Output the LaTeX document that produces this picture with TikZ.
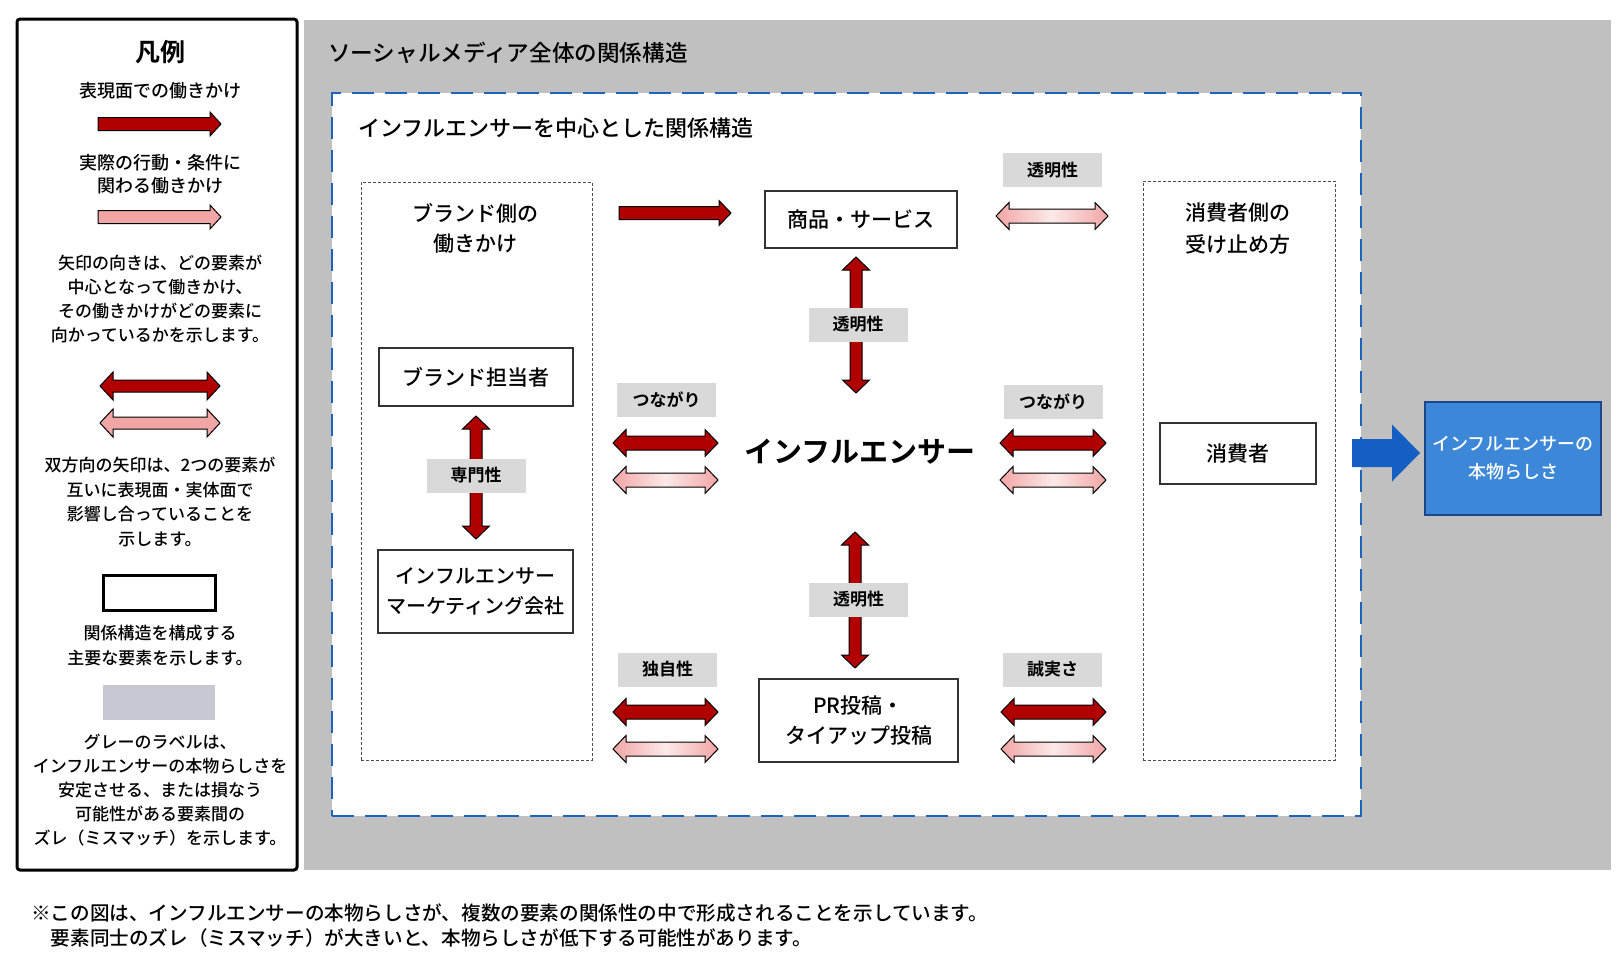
\documentclass[tikz,border=0pt]{standalone}
\usepackage{fontspec}
\setmainfont{Noto Sans CJK JP}[UprightFont=* Medium, BoldFont=* Bold]
\usepackage{tikz}
\usetikzlibrary{calc, positioning}
\usepackage{xcolor}

\definecolor{outerGray}{RGB}{192,192,192}
\definecolor{tagGray}{RGB}{217,217,217}
\definecolor{legGray}{RGB}{200,200,210}
\definecolor{arrRed}{RGB}{176,0,0}
\definecolor{arrPink}{RGB}{242,165,165}
\definecolor{zoneBlue}{RGB}{30,100,190}
\definecolor{flowBlue}{RGB}{20,95,195}
\definecolor{goalBlue}{RGB}{60,135,215}
\definecolor{goalEdge}{RGB}{30,70,140}

\newcommand{\fsTitle}{\fontsize{22.6}{28}\selectfont}
\newcommand{\fsBox}{\fontsize{21}{30}\selectfont}
\newcommand{\fsTag}{\fontsize{17}{20}\selectfont\bfseries}
\newcommand{\fsLeg}{\fontsize{17}{24}\selectfont}
\newcommand{\fsNote}{\fontsize{19.6}{25}\selectfont}

% ブロック矢印の寸法
\def\arrShaft{7pt}\def\arrHead{13.5pt}\def\arrTip{13pt}
\tikzset{
  arr shaft/.store in=\arrShaft,
  arr head/.store in=\arrHead,
  arr tip/.store in=\arrTip,
}
% 片方向
\newcommand{\singlearrow}[3][]{%
  \path[#1] ($(#2)!\arrShaft!90:(#3)$)
    -- ($(#3)!\arrTip!(#2)!\arrShaft!-90:(#2)$)
    -- ($(#3)!\arrTip!(#2)!\arrHead!-90:(#2)$)
    -- (#3)
    -- ($(#3)!\arrTip!(#2)!\arrHead!90:(#2)$)
    -- ($(#3)!\arrTip!(#2)!\arrShaft!90:(#2)$)
    -- ($(#2)!\arrShaft!-90:(#3)$) -- cycle;}
% 双方向
\newcommand{\doublearrow}[3][]{%
  \path[#1] (#2)
    -- ($(#2)!\arrTip!(#3)!\arrHead!90:(#3)$)
    -- ($(#2)!\arrTip!(#3)!\arrShaft!90:(#3)$)
    -- ($(#3)!\arrTip!(#2)!\arrShaft!-90:(#2)$)
    -- ($(#3)!\arrTip!(#2)!\arrHead!-90:(#2)$)
    -- (#3)
    -- ($(#3)!\arrTip!(#2)!\arrHead!90:(#2)$)
    -- ($(#3)!\arrTip!(#2)!\arrShaft!90:(#2)$)
    -- ($(#2)!\arrTip!(#3)!\arrShaft!-90:(#3)$)
    -- ($(#2)!\arrTip!(#3)!\arrHead!-90:(#3)$)
    -- cycle;}

\begin{document}
\begin{tikzpicture}[x=1pt, y=-1pt,
  elem/.style={draw=black!80, line width=1.3pt, fill=white, align=center, font=\fsBox, inner sep=0pt},
  tag/.style={fill=tagGray, font=\fsTag, minimum width=99pt, minimum height=34pt, inner sep=0pt},
  side/.style={draw=black!70, line width=0.8pt, dash pattern=on 3pt off 2pt, fill=white, inner sep=0pt},
  legtxt/.style={font=\fsLeg, align=center, inner sep=0pt},
  redarr/.style={fill=arrRed, draw=black, line width=1pt, line join=miter},
  pinkarr/.style={left color=arrPink, right color=arrPink, middle color=arrPink!25, draw=black, line width=1pt},
  bluearr/.style={fill=flowBlue, arr shaft=14pt, arr head=28.5pt, arr tip=28pt},
]

\useasboundingbox[fill=white] (0,0) rectangle (1624,969);

% 凡例
\node (legend) [draw=black, line width=3pt, rounded corners=3pt, minimum width=280pt, minimum height=851pt] at (157,444.5) {};
\node (lgTitle) [font=\fontsize{25}{28}\selectfont\bfseries, inner sep=0pt] at (160,52) {凡例};
\node (lgFace) [legtxt, font=\fontsize{18}{23}\selectfont] at (160,91) {表現面での働きかけ};
\node (lgReal) [legtxt, font=\fontsize{18}{23}\selectfont] at (160,174.5) {実際の行動・条件に\\関わる働きかけ};
\node (lgDir) [legtxt] at (160,299) {矢印の向きは、どの要素が\\中心となって働きかけ、\\その働きかけがどの要素に\\向かっているかを示します。};
\node (lgBoth) [legtxt, font=\fontsize{17}{24.5}\selectfont] at (160,502) {双方向の矢印は、2つの要素が\\互いに表現面・実体面で\\影響し合っていることを\\示します。};
\node (lgBox) [draw=black, line width=3pt, minimum width=112pt, minimum height=35pt] at (159,592.5) {};
\node (lgBoxTxt) [legtxt, font=\fontsize{17}{25}\selectfont] at (160,645.5) {関係構造を構成する\\主要な要素を示します。};
\node (lgTag) [fill=legGray, minimum width=112pt, minimum height=35pt] at (159,702.5) {};
\node (lgTagTxt) [legtxt] at (160,790) {グレーのラベルは、\\インフルエンサーの本物らしさを\\安定させる、または損なう\\可能性がある要素間の\\ズレ（ミスマッチ）を示します。};

\coordinate (lgA1) at (98,124);  \coordinate (lgB1) at (221,124);
\coordinate (lgA2) at (98,217);  \coordinate (lgB2) at (221,217);
\coordinate (lgA3) at (100,386); \coordinate (lgB3) at (220,386);
\coordinate (lgA4) at (100,423); \coordinate (lgB4) at (220,423);
\singlearrow[redarr, arr shaft=6.5pt, arr head=12pt, arr tip=11pt]{lgA1}{lgB1}
\singlearrow[redarr, fill=arrPink, arr shaft=6.5pt, arr head=12pt, arr tip=11pt]{lgA2}{lgB2}
\doublearrow[redarr, arr shaft=6pt, arr head=14pt]{lgA3}{lgB3}
\doublearrow[redarr, fill=arrPink, arr shaft=6pt, arr head=14pt]{lgA4}{lgB4}

% 全体の枠
\node (social) [fill=outerGray, minimum width=1307pt, minimum height=850pt, inner sep=0pt] at (957.5,445) {};
\node (socialTitle) [anchor=west, font=\fsTitle, inner sep=0pt] at (328,53) {ソーシャルメディア全体の関係構造};
\node (zone) [draw=zoneBlue, fill=white, line width=2.8pt, dash pattern=on 22pt off 11pt, minimum width=1029pt, minimum height=723pt] at (846.5,454.5) {};
\node (zoneTitle) [anchor=west, font=\fontsize{22}{28}\selectfont, inner sep=0pt] at (358,128) {インフルエンサーを中心とした関係構造};

% 両側の点線枠
\node (brandSide) [side, minimum width=231pt, minimum height=578pt] at (476.5,471) {};
\node (brandHead) [font=\fontsize{21}{30}\selectfont, align=center, inner sep=0pt] at (475,228) {ブランド側の\\働きかけ};
\node (consSide) [side, minimum width=192pt, minimum height=579pt] at (1239,470.5) {};
\node (consHead) [font=\fontsize{21}{32}\selectfont, align=center, inner sep=0pt] at (1238,229) {消費者側の\\受け止め方};

% 要素
\node (goods) [elem, minimum width=192pt, minimum height=57pt] at (861,219.5) {商品・サービス};
\node (brandMgr) [elem, minimum width=194pt, minimum height=58pt] at (476,377) {ブランド担当者};
\node (agency) [elem, font=\fontsize{20}{30}\selectfont, minimum width=195pt, minimum height=83pt] at (475.5,591.5) {インフルエンサー\\マーケティング会社};
\node (post) [elem, minimum width=199pt, minimum height=83pt] at (858.5,720.5) {PR投稿・\\タイアップ投稿};
\node (consumer) [elem, minimum width=156pt, minimum height=61pt] at (1238,453.5) {消費者};
\node (infl) [font=\fontsize{29}{32}\selectfont\bfseries, inner sep=0pt] at (860,452) {インフルエンサー};
\node (goal) [fill=goalBlue, draw=goalEdge, line width=1.3pt, text=white, align=center, font=\fontsize{18}{28}\selectfont, minimum width=176pt, minimum height=113pt, inner sep=0pt] at (1513,458.5) {インフルエンサーの\\本物らしさ};

% 矢印の端点
\coordinate (brandOut) at (619,213);  \coordinate (goodsIn) at (731,213);
\coordinate (goodsR) at (996,216);    \coordinate (consTop) at (1108,216);
\coordinate (goodsS) at (856,257);    \coordinate (inflN) at (856,393);
\coordinate (mgrS) at (476,416);      \coordinate (agencyN) at (476,539);
\coordinate (inflS) at (855,532);     \coordinate (postN) at (855,668);
\coordinate (linkLa) at (613,443);    \coordinate (linkLb) at (718,443);
\coordinate (linkLc) at (613,480);    \coordinate (linkLd) at (718,480);
\coordinate (linkRa) at (1000,443);   \coordinate (linkRb) at (1106,443);
\coordinate (linkRc) at (1000,480);   \coordinate (linkRd) at (1106,480);
\coordinate (origA) at (613,712);     \coordinate (origB) at (718,712);
\coordinate (origC) at (613,749);     \coordinate (origD) at (718,749);
\coordinate (sincA) at (1001,712);    \coordinate (sincB) at (1106,712);
\coordinate (sincC) at (1001,749);    \coordinate (sincD) at (1106,749);
\coordinate (consE) at (1352,453);    \coordinate (goalW) at (1420,453);

\singlearrow[redarr, arr shaft=6.5pt, arr head=12.5pt, arr tip=12pt]{brandOut}{goodsIn}
\doublearrow[pinkarr]{goodsR}{consTop}
\doublearrow[redarr, arr shaft=6pt]{goodsS}{inflN}
\doublearrow[redarr, arr shaft=6pt]{mgrS}{agencyN}
\doublearrow[redarr, arr shaft=6pt]{inflS}{postN}
\doublearrow[redarr]{linkLa}{linkLb}
\doublearrow[pinkarr]{linkLc}{linkLd}
\doublearrow[redarr]{linkRa}{linkRb}
\doublearrow[pinkarr]{linkRc}{linkRd}
\doublearrow[redarr]{origA}{origB}
\doublearrow[pinkarr]{origC}{origD}
\doublearrow[redarr]{sincA}{sincB}
\doublearrow[pinkarr]{sincC}{sincD}
\singlearrow[bluearr]{consE}{goalW}

% ラベル
\node (tagGoodsInfl) [tag] at (858,324.5) {透明性};
\node (tagGoodsCons) [tag] at (1052.5,170) {透明性};
\node (tagExpert) [tag] at (476,475.5) {専門性};
\node (tagLinkL) [tag] at (666.5,399.5) {つながり};
\node (tagLinkR) [tag] at (1053,401.5) {つながり};
\node (tagPost) [tag] at (858.5,599.5) {透明性};
\node (tagOrig) [tag] at (667.5,669.5) {独自性};
\node (tagSinc) [tag] at (1052.5,669.5) {誠実さ};

% 注記
\node (note) [anchor=west, align=left, font=\fsNote, inner sep=0pt] at (31,925.5) {※この図は、インフルエンサーの本物らしさが、複数の要素の関係性の中で形成されることを示しています。\\　要素同士のズレ（ミスマッチ）が大きいと、本物らしさが低下する可能性があります。};

\end{tikzpicture}
\end{document}
